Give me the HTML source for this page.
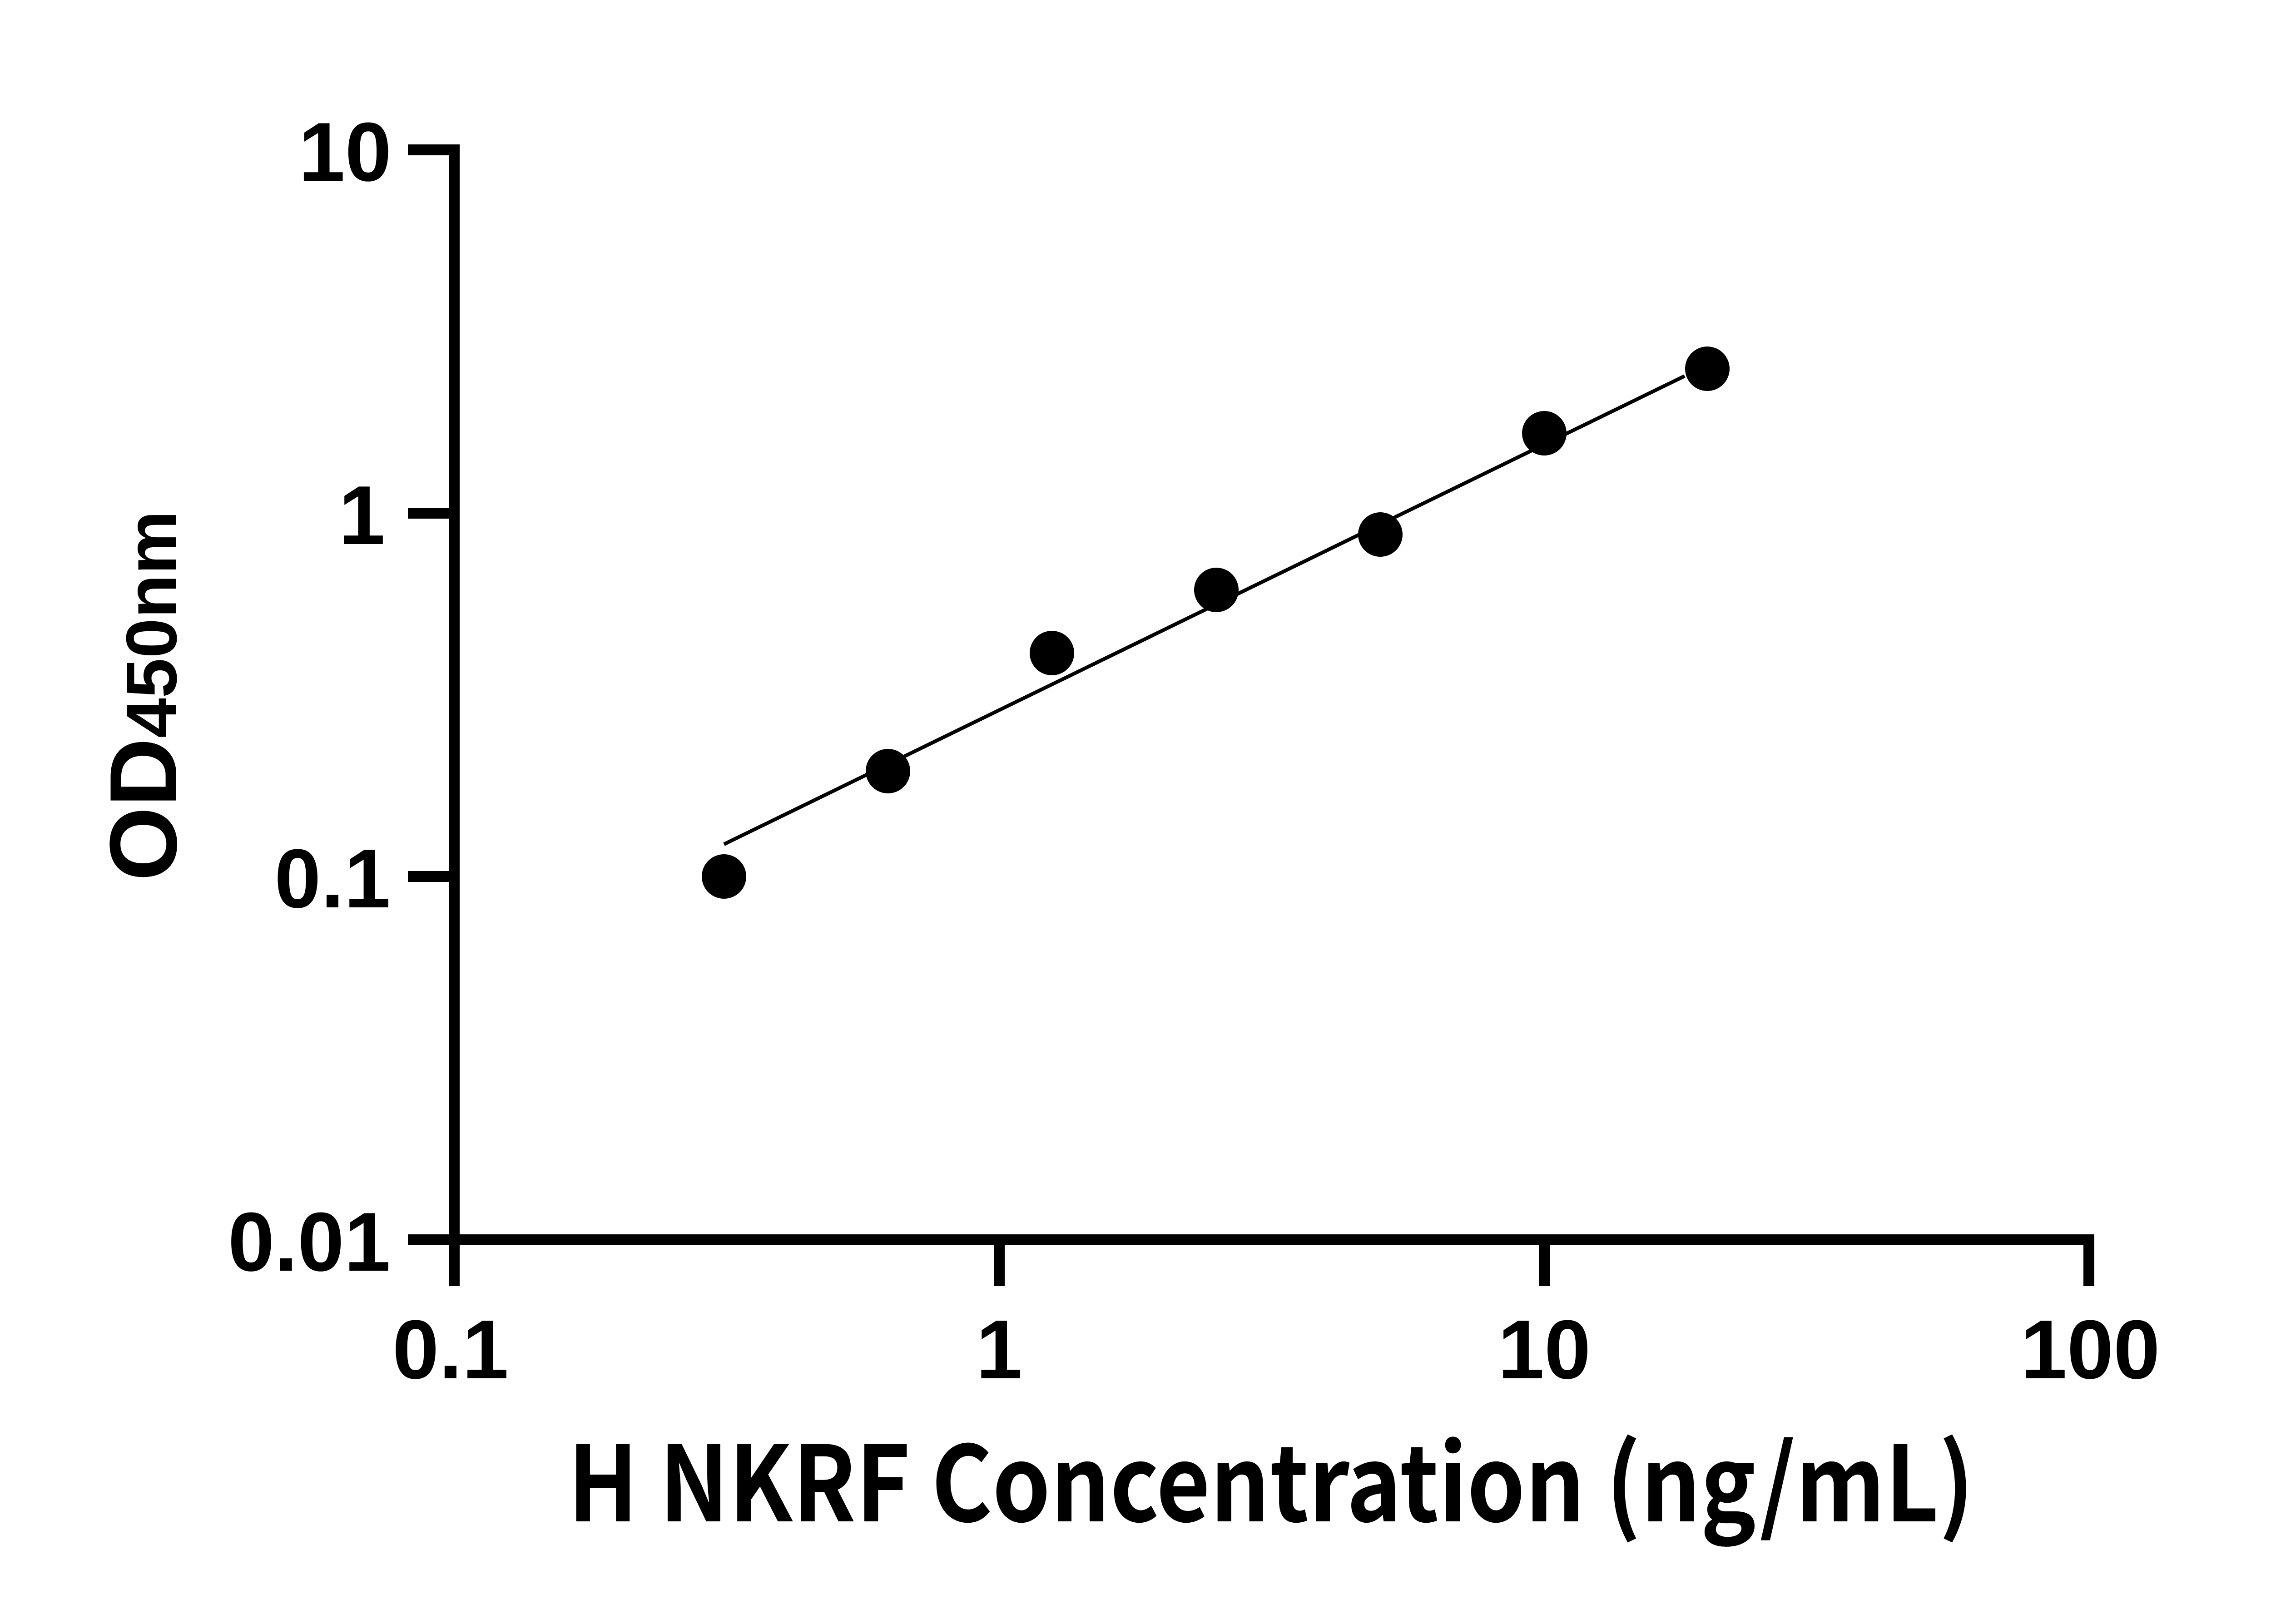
<!DOCTYPE html>
<html><head><meta charset="utf-8"><style>html,body{margin:0;padding:0;background:#fff}svg{display:block}</style></head>
<body>
<svg width="5170" height="3576" viewBox="0 0 5170 3576" xmlns="http://www.w3.org/2000/svg">
<rect width="5170" height="3576" fill="#fff"/>
<g stroke="#000" stroke-width="24" fill="none" stroke-linecap="butt">
  <line x1="1000" y1="318" x2="1000" y2="2832"/>
  <line x1="988" y1="2730" x2="4611" y2="2730"/>
  <line x1="898" y1="330" x2="1012" y2="330"/>
  <line x1="898" y1="1130" x2="1000" y2="1130"/>
  <line x1="898" y1="1930" x2="1000" y2="1930"/>
  <line x1="898" y1="2730" x2="1000" y2="2730"/>
  <line x1="2200" y1="2730" x2="2200" y2="2832"/>
  <line x1="3400" y1="2730" x2="3400" y2="2832"/>
  <line x1="4599" y1="2718" x2="4599" y2="2832"/>
</g>
<g font-family="'Liberation Sans', Arial, sans-serif" font-weight="bold" font-size="184" fill="#000">
  <text x="862" y="398" text-anchor="end">10</text>
  <text x="848" y="1198" text-anchor="end">1</text>
  <text x="860" y="1998" text-anchor="end">0.1</text>
  <text x="860" y="2798" text-anchor="end">0.01</text>
  <text x="992" y="3035" text-anchor="middle">0.1</text>
  <text x="2200" y="3035" text-anchor="middle">1</text>
  <text x="3400" y="3035" text-anchor="middle">10</text>
  <text x="4602" y="3035" text-anchor="middle">100</text>
</g>
<text transform="translate(388,1940) rotate(-90)" font-family="'Liberation Sans', Arial, sans-serif" font-weight="bold" fill="#000"><tspan font-size="210">OD</tspan><tspan font-size="158">450nm</tspan></text>
<text x="1250" y="3350" textLength="3096" lengthAdjust="spacingAndGlyphs" font-family="'Noto Sans CJK SC', 'DejaVu Sans', sans-serif" font-weight="bold" font-size="230" fill="#000">H NKRF Concentration (ng/mL)</text>
<line x1="1594" y1="1859" x2="3709" y2="828" stroke="#000" stroke-width="8"/>
<g fill="#000">
  <circle cx="1594" cy="1930" r="49"/>
  <circle cx="1955" cy="1698" r="49"/>
  <circle cx="2316" cy="1438" r="49"/>
  <circle cx="2678" cy="1299" r="49"/>
  <circle cx="3039" cy="1177" r="49"/>
  <circle cx="3400" cy="954" r="49"/>
  <circle cx="3759" cy="812" r="49"/>
</g>
</svg>
</body></html>
